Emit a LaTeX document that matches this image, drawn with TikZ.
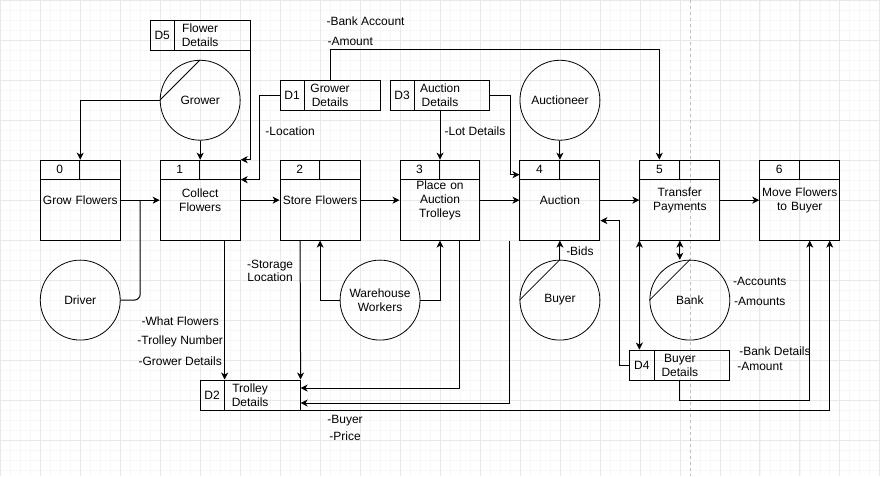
\documentclass[tikz,border=0pt]{standalone}
\usepackage{fontspec}
\setmainfont{Liberation Sans}
\usetikzlibrary{arrows.meta}
\begin{document}
\begin{tikzpicture}[x=1pt,y=-1pt,
  font=\fontsize{12}{14}\selectfont,
  line width=1pt,
  proc/.style={draw, minimum width=80pt, minimum height=80pt, align=center, inner sep=0pt, text width=78pt},
  dstore/.style={draw, minimum width=100pt, minimum height=30pt, align=center, inner sep=0pt},
  ent/.style={draw, circle, minimum size=80pt, inner sep=0pt, align=center, line width=0.8pt},
  arr/.style={-{Stealth[length=7pt,width=7pt,inset=2pt]}},
  dbl/.style={{Stealth[length=7pt,width=7pt,inset=2pt]}-{Stealth[length=7pt,width=7pt,inset=2pt]}},
  lbl/.style={inner sep=0pt, align=center}]
% background and grid
\fill[white] (0,0) rectangle (880,476);
\draw[line width=0.5pt, black!3, step=10pt] (0,0) grid (880,476);
\draw[line width=0.6pt, black!9, step=40pt] (0,0) grid (880,476);
\draw[line width=0.6pt, black!25, dashed] (690,0) -- (690,476);
\useasboundingbox (0,0) rectangle (880,476);

% processes
\node[proc] (p0) at (80,200) {Grow Flowers};
\node[proc] (p1) at (200,200) {Collect\\Flowers};
\node[proc] (p2) at (320,200) {Store Flowers};
\node[proc] (p3) at (440,200) {Place on\\Auction\\Trolleys};
\node[proc] (p4) at (560,200) {Auction};
\node[proc] (p5) at (680,200) {Transfer\\Payments};
\node[proc] (p6) at (800,200) {Move Flowers\\to Buyer};
\foreach \p/\n in {p0/0,p1/1,p2/2,p3/3,p4/4,p5/5,p6/6}{
  \draw ([yshift=-20pt]\p.north west) -- ([yshift=-20pt]\p.north east);
  \draw ([xshift=40pt]\p.north west) -- ([xshift=40pt,yshift=-20pt]\p.north west);
  \node at ([xshift=20pt,yshift=-10pt]\p.north west) {\n};
}

% data stores
\node[dstore] (d5) at (200,35) {Flower\\Details};
\node[dstore] (d1) at (330,95) {Grower\\Details};
\node[dstore] (d3) at (440,95) {Auction\\Details};
\node[dstore] (d2) at (250,395) {Trolley\\Details};
\node[dstore] (d4) at (680,365) {Buyer\\Details};
\foreach \d/\n in {d5/D5,d1/D1,d3/D3,d2/D2,d4/D4}{
  \draw ([xshift=25pt]\d.north west) -- ([xshift=25pt]\d.south west);
  \node at ([xshift=12.5pt]\d.west) {\n};
}

% external entities
\node[ent] (grower) at (200,100) {Grower};
\node[ent] (driver) at (80,300) {Driver};
\node[ent] (ww) at (380,300) {Warehouse\\Workers};
\node[ent] (auctioneer) at (560,100) {Auctioneer};
\node[ent] (buyer) at (560,300) {Buyer};
\node[ent] (bank) at (690,300) {Bank};
\draw[line width=0.8pt] (grower.west) -- (grower.north);
\draw[line width=0.8pt] (buyer.west) -- (buyer.north);
\draw[line width=0.8pt] (bank.west) -- (bank.north);

% connectors
\coordinate (j01) at (140,200);
\draw[arr] (grower.west) -| (p0.north);
\draw[arr] (grower.south) -- (p1.north);
\draw[arr] (d5.south east) |- (p1.north east);
\draw[arr] (d1.west) -- ++(-20,0) |- ([yshift=-20pt]p1.north east);
\draw[arr] (p0.east) -- (p1.west);
\draw[rounded corners=6pt] (driver.east) -| (j01);
\draw[arr] (p1.east) -- (p2.west);
\draw[arr] (p2.east) -- (p3.west);
\draw[arr] (p3.east) -- (p4.west);
\draw[arr] (p4.east) -- (p5.west);
\draw[arr] (p5.east) -- (p6.west);
\draw[arr] (d3.south) -- (p3.north);
\draw[arr] (d3.east) -- ++(20,0) |- ([yshift=-15pt]p4.north west);
\draw[arr] (auctioneer.south) -- (p4.north);
\draw[arr] (d1.north) -- ++(0,-30) -| ([xshift=20pt]p5.north west);
\draw[arr] ([xshift=65pt]p1.south west) -- ([xshift=25pt]d2.north west);
\draw[arr] ([xshift=-20pt]p2.south) -- (d2.north east);
\draw[arr] (ww.west) -| (p2.south);
\draw[arr] (ww.east) -| (p3.south);
\draw[arr] ([xshift=20pt]p3.south) |- ([yshift=7pt]d2.east);
\draw[arr] ([xshift=-10pt]p4.south west) |- ([yshift=-8pt]d2.east);
\draw[arr] (d2.south east) -| ([xshift=30pt]p6.south);
\draw[arr] (buyer.north) -- (p4.south);
\draw[dbl] (p5.south) -- (p5.south |- bank.north);
\draw[dbl] (p5.south west) -- (p5.south west |- d4.north);
\draw[arr] (d4.west) -- ++(-10,0) |- ([yshift=20pt]p4.south east);
\draw[arr] (d4.south) -- ++(0,20) -| ([xshift=10pt]p6.south);

% labels
\node[lbl, anchor=west] (lba) at (326,21) {-Bank Account};
\node[lbl, anchor=west] (lam) at (327,41) {-Amount};
\node[lbl] (lloc) at (290,131) {-Location};
\node[lbl] (llot) at (475,131) {-Lot Details};
\node[lbl, font=\fontsize{12}{13}\selectfont] (lsto) at (270,271) {-Storage\\Location};
\node[lbl] (lwf) at (180,321) {-What Flowers};
\node[lbl] (ltn) at (180,341) {-Trolley Number};
\node[lbl] (lgd) at (180,361) {-Grower Details};
\node[lbl] (lbids) at (580,251) {-Bids};
\node[lbl] (lacc) at (760,281) {-Accounts};
\node[lbl] (lamts) at (760,301) {-Amounts};
\node[lbl, anchor=west] (lbd) at (739,351) {-Bank Details};
\node[lbl, anchor=west] (lam2) at (737,366) {-Amount};
\node[lbl] (lbuy) at (345,421) {-Buyer};
\node[lbl] (lpr) at (345,436) {-Price};
\end{tikzpicture}
\end{document}
